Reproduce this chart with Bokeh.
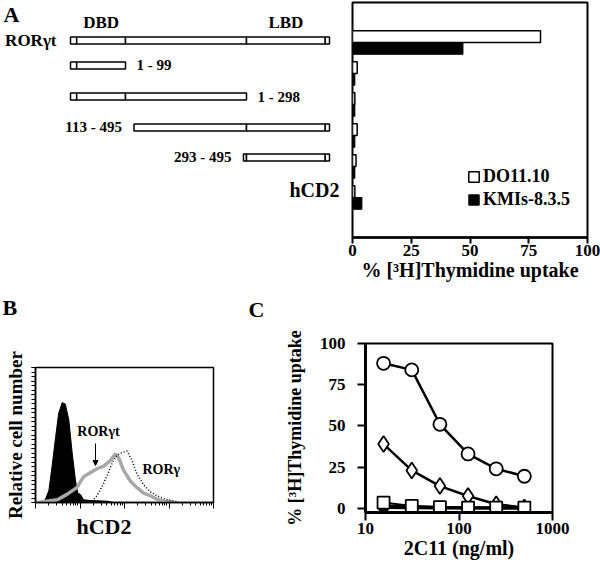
import numpy as np
from bokeh.plotting import figure
from bokeh.layouts import row, column
from bokeh.models import (Range1d, FactorRange, ColumnDataSource, FixedTicker,
                          SingleIntervalTicker, Label, Arrow, NormalHead, Legend,
                          LegendItem, BasicTickFormatter, Title)
from bokeh.transform import dodge
from bokeh.core.properties import value
from bokeh.embed import file_html
from bokeh.resources import INLINE

FONT = "Liberation Serif"

# ---------------- Panel A data ----------------
construct_names = ["RORγt", "1 - 99", "1 - 298", "113 - 495", "293 - 495", "hCD2"]
construct_start = [1, 1, 1, 113, 293]
construct_end = [495, 99, 298, 495, 495]
label_side = ["left", "right", "right", "left", "left"]
domain_bounds = [12, 99, 298, 485]
domain_names = ["DBD", "LBD"]
domain_from = [12, 298]
domain_to = [99, 485]
do11_uptake = [80, 2, 1, 2, 1.5, 1]
kmis_uptake = [47, 1, 1, 1, 1, 4]
uptake_ticks = [0, 25, 50, 75, 100]

# ---------------- Panel B data (flow histograms) ----------------
neg_x = [1.29, 1.66, 2.0, 2.34, 2.82, 3.31, 3.98, 4.68, 5.62, 6.61, 7.94, 8.91, 10.2, 12.0, 17.0, 39.8, 57.5]
neg_y = [0, 2, 9, 26, 48, 66, 74, 73, 61, 38, 16, 7, 6, 2, 1.5, 1, 0]
rort_x = [1.1, 1.8, 3.1, 5.1, 8.5, 12, 17, 24, 34, 48, 62, 74, 95, 135, 191, 269, 380, 537, 759, 1259]
rort_y = [0, 1, 2, 6, 11, 19, 22, 25, 27, 31, 36, 33, 24, 16, 11, 7, 5, 2.5, 1, 0.5]
rorg_x = [18.6, 24, 31.6, 40.7, 52.5, 67.6, 87, 115, 148, 191, 269, 380, 537, 891, 1514]
rorg_y = [1, 5, 12, 20, 29, 35, 37, 38, 31, 21, 13, 8, 5, 2, 0.5]

# ---------------- Panel C data ----------------
conc = [15.6, 31.25, 62.5, 125, 250, 500]
circ_vals = [88, 84, 51, 33, 24, 19.5]
diam_vals = [39, 23, 13.5, 7.5, 2.5, 0.5]
sq_open_vals = [3.5, 1.5, 0.8, 0.5, 0.5, 0.5]
sq_filled_vals = [1.5, 1.0, 0.6, 0.4, 0.3, 0.3]
diam_filled_vals = [0.6, 0.4, 0.3, 0.2, 0.2, 0.2]
c_yticks = [0, 25, 50, 75, 100]
c_xticks = [10, 100, 1000]

panel_letters = ["A", "B", "C"]


def bold(obj, prefix, size):
    setattr(obj, prefix + "_text_font", FONT)
    setattr(obj, prefix + "_text_font_style", "bold")
    setattr(obj, prefix + "_text_font_size", size)
    setattr(obj, prefix + "_text_color", "black")


def hide_labels(ax):
    ax.major_label_text_font_size = "1px"
    ax.major_label_text_alpha = 0
    ax.major_label_standoff = 0


def label(fig, x, y, text, size, align="left", baseline="middle"):
    fig.add_layout(Label(x=x, y=y, text=text, text_font=FONT, text_font_style="bold",
                         text_font_size=size, text_align=align, text_baseline=baseline,
                         text_color="black"))


def side_title(fig, text, size, place, offset, standoff):
    fig.add_layout(Title(text=text, text_font=FONT, text_font_style="bold",
                         text_font_size=size, text_color="black", align="left",
                         offset=offset, standoff=standoff), place)


def blank_fig(width, height, xr, yr):
    f = figure(width=width, height=height, x_range=xr, y_range=yr,
               x_axis_location=None, y_axis_location=None, toolbar_location=None,
               output_backend="svg", min_border=0)
    f.outline_line_color = None
    f.grid.visible = False
    return f


# ================= Panel A: construct diagram =================
aa_breaks = [1, 99, 298, 495]
diagram_px = [70, 125, 246, 329]
# vertical placement of the six diagram rows (layout, in row units)
row_pos = [0, 0.83, 1.87, 2.9, 3.9, 5.0]


def to_px(aa):
    return float(np.interp(aa, aa_breaks, diagram_px))


TOP_H = 288
TOP_B, BOT_B = 2, TOP_H - 237
figA = figure(width=345, height=TOP_H, x_range=Range1d(0, 345),
              y_range=Range1d(6.5667, -1.2667), x_axis_location=None,
              y_axis_location=None, toolbar_location=None, output_backend="svg",
              min_border_left=0, min_border_right=0, min_border_top=TOP_B,
              min_border_bottom=BOT_B)
figA.outline_line_color = None
figA.grid.visible = False

segL, segR, segT, segB = [], [], [], []
for i, (s, e) in enumerate(zip(construct_start, construct_end)):
    pts = [s] + [b for b in domain_bounds if s < b < e] + [e]
    for a, b in zip(pts[:-1], pts[1:]):
        segL.append(to_px(a))
        segR.append(to_px(b))
        segT.append(row_pos[i] - 0.117)
        segB.append(row_pos[i] + 0.117)
figA.quad(left=segL, right=segR, top=segT, bottom=segB, fill_color="white",
          line_color="black", line_width=1.5)

lx, ly, lt, rx, ry, rt = [], [], [], [], [], []
for i, side in enumerate(label_side):
    if i == 0:
        continue
    if side == "left":
        lx.append(to_px(construct_start[i])); ly.append(row_pos[i]); lt.append(construct_names[i])
    else:
        rx.append(to_px(construct_end[i])); ry.append(row_pos[i]); rt.append(construct_names[i])
figA.text(x=lx, y=ly, text=lt, x_offset=-12, text_align="right", text_baseline="middle",
          text_font=value(FONT), text_font_style="bold", text_font_size=value("15px"))
figA.text(x=rx, y=ry, text=rt, x_offset=11, text_align="left", text_baseline="middle",
          text_font=value(FONT), text_font_style="bold", text_font_size=value("15px"))
figA.text(x=[to_px(construct_start[0])], y=[row_pos[0]], text=[construct_names[0]],
          x_offset=-14, text_align="right", text_baseline="middle", text_font=value(FONT),
          text_font_style="bold", text_font_size=value("17px"))
figA.text(x=[to_px(495)], y=[row_pos[5]], text=[construct_names[5]], x_offset=10,
          text_align="right", text_baseline="middle", text_font=value(FONT),
          text_font_style="bold", text_font_size=value("20px"))
figA.text(x=[to_px((a + b) / 2) for a, b in zip(domain_from, domain_to)], y=[-0.6, -0.6],
          text=domain_names, text_align="center", text_baseline="middle",
          text_font=value(FONT), text_font_style="bold", text_font_size=value("17px"))
label(figA, 3, -1.3, panel_letters[0], "22px", baseline="top")

# ================= Panel A: bar chart =================
yr = FactorRange(factors=construct_names[::-1], range_padding=0.79,
                 range_padding_units="absolute")
figBar = figure(width=255, height=TOP_H, x_range=Range1d(0, 100), y_range=yr,
                y_axis_location=None, toolbar_location=None, output_backend="svg",
                min_border_left=7, min_border_right=13, min_border_top=TOP_B,
                min_border_bottom=BOT_B)
figBar.grid.visible = False
figBar.outline_line_color = "black"
figBar.outline_line_width = 2
src = ColumnDataSource(dict(c=construct_names, do=do11_uptake, km=kmis_uptake))
r_do = figBar.hbar(y=dodge("c", 0.19, range=yr), left=0, right="do", height=0.38,
                   fill_color="white", line_color="black", line_width=1.5, source=src)
r_km = figBar.hbar(y=dodge("c", -0.19, range=yr), left=0, right="km", height=0.38,
                   fill_color="black", line_color="black", line_width=1, source=src)
xa = figBar.xaxis[0]
xa.ticker = FixedTicker(ticks=uptake_ticks)
xa.axis_line_width = 2.5
xa.major_tick_out = 6
xa.major_tick_in = 0
xa.major_tick_line_width = 2
xa.minor_tick_line_color = None
xa.major_label_standoff = 1
bold(xa, "major_label", "17px")
xa.axis_label = "% [³H]Thymidine uptake"
bold(xa, "axis_label", "20px")
xa.axis_label_standoff = 0
leg = Legend(items=[LegendItem(label="DO11.10", renderers=[r_do]),
                    LegendItem(label="KMIs-8.3.5", renderers=[r_km])],
             location=(115, 27), glyph_width=13, glyph_height=13, padding=0, margin=0,
             spacing=2, label_standoff=3, label_height=18, border_line_color=None,
             background_fill_alpha=0)
bold(leg, "label", "18px")
figBar.add_layout(leg)

# ================= Panel letters B / C strip =================
B_L, B_R, B_T, B_BOT = 35, 213, 367, 502
BOT_TOP, PAGE_H = TOP_H, 567
LEFT_W = 270
HEAD_H = 36
figHead = blank_fig(LEFT_W, HEAD_H, Range1d(0, LEFT_W),
                    Range1d(BOT_TOP + HEAD_H, BOT_TOP))
figHead.text(x=[2, 248], y=[294, 296], text=panel_letters[1:], text_align="left",
             text_baseline="top", text_font=value(FONT), text_font_style="bold",
             text_font_size=value("22px"))


# ================= Panel B =================
def b_x(px):
    return 10 ** ((px - B_L) / ((B_R - B_L) / 4.0))


def b_y(py):
    return (B_BOT - py) / ((B_BOT - B_T) / 100.0)


figB = figure(width=LEFT_W, height=PAGE_H - BOT_TOP - HEAD_H, x_axis_type="log",
              x_range=Range1d(1, 1e4), y_range=Range1d(0, 100), toolbar_location=None,
              output_backend="svg", min_border_left=B_L, min_border_right=LEFT_W - B_R,
              min_border_top=B_T - BOT_TOP - HEAD_H, min_border_bottom=PAGE_H - B_BOT)
figB.grid.visible = False
figB.outline_line_color = "black"
figB.outline_line_width = 1.5
figB.varea(x=neg_x, y1=0, y2=neg_y, fill_color="black")
figB.line(neg_x, neg_y, line_color="black", line_width=1)
figB.line(rort_x, rort_y, line_color="#a8a8a8", line_width=3.5)
figB.line(rorg_x, rorg_y, line_color="black", line_width=1.5, line_dash="1 2")
bx = figB.xaxis[0]
bx.major_tick_out = 6
bx.major_tick_in = 0
bx.minor_tick_out = 3
bx.minor_tick_in = 0
hide_labels(bx)
bx.axis_line_width = 1.5
by = figB.yaxis[0]
by.ticker = SingleIntervalTicker(interval=10, num_minor_ticks=3)
by.major_tick_out = 4
by.major_tick_in = 0
by.minor_tick_out = 4
by.minor_tick_in = 0
hide_labels(by)
by.axis_line_width = 1.5
by.axis_label = "Relative cell number"
bold(by, "axis_label", "19px")
by.axis_label_standoff = 6
side_title(figB, "hCD2", "22px", "below", 76 - B_L, 7)
label(figB, b_x(98), b_y(431), "RORγt", "14px", align="center")
label(figB, b_x(142), b_y(469), "RORγ", "14px")
figB.add_layout(Arrow(end=NormalHead(size=5, fill_color="black", line_color="black"),
                      x_start=b_x(95), y_start=b_y(443), x_end=b_x(95), y_end=b_y(465),
                      line_width=1))

# ================= Panel C =================
C_L, C_R, C_T, C_BOT = 365, 552, 343, 512
figC = figure(width=600 - LEFT_W, height=PAGE_H - BOT_TOP, x_axis_type="log",
              x_range=Range1d(10, 1000), y_range=Range1d(-2.5, 100),
              toolbar_location=None, output_backend="svg",
              min_border_left=C_L - LEFT_W, min_border_right=600 - C_R,
              min_border_top=C_T - BOT_TOP, min_border_bottom=PAGE_H - C_BOT)
figC.grid.visible = False
figC.outline_line_color = "black"
figC.outline_line_width = 2
figC.line(conc, diam_vals, line_color="black", line_width=2.5)
figC.scatter(conc, diam_vals, marker="diamond", size=16, fill_color="white",
             line_color="black", line_width=1.8)
figC.line(conc, diam_filled_vals, line_color="black", line_width=3)
figC.scatter(conc, diam_filled_vals, marker="diamond", size=10, fill_color="black",
             line_color="black")
figC.line(conc, sq_filled_vals, line_color="black", line_width=3)
figC.scatter(conc, sq_filled_vals, marker="square", size=9, fill_color="black",
             line_color="black")
figC.line(conc, sq_open_vals, line_color="black", line_width=2)
figC.scatter(conc, sq_open_vals, marker="square", size=12, fill_color="white",
             line_color="black", line_width=1.8)
figC.line(conc, circ_vals, line_color="black", line_width=2.5)
figC.scatter(conc, circ_vals, marker="circle", size=13, fill_color="white",
             line_color="black", line_width=1.8)
cx = figC.xaxis[0]
cx.ticker = FixedTicker(ticks=c_xticks)
cx.formatter = BasicTickFormatter()
cx.major_tick_out = 8
cx.major_tick_in = 0
cx.major_tick_line_width = 2
cx.minor_tick_line_color = None
cx.axis_line_width = 3
cx.major_label_standoff = 2
bold(cx, "major_label", "17px")
cx.axis_label = "2C11 (ng/ml)"
bold(cx, "axis_label", "20px")
cx.axis_label_standoff = 0
cy = figC.yaxis[0]
cy.ticker = FixedTicker(ticks=c_yticks)
cy.major_tick_out = 8
cy.major_tick_in = 0
cy.major_tick_line_width = 2
cy.minor_tick_line_color = None
cy.axis_line_width = 3
cy.major_label_standoff = 12
bold(cy, "major_label", "17px")
cy.axis_label = "% [³H]Thymidine uptake"
bold(cy, "axis_label", "18px")
cy.axis_label_standoff = 12

layout = column(row(column(figA), column(figBar)),
                row(column(row(figHead), row(figB)), column(figC)))
open("out.html", "w").write(file_html(layout, INLINE))
